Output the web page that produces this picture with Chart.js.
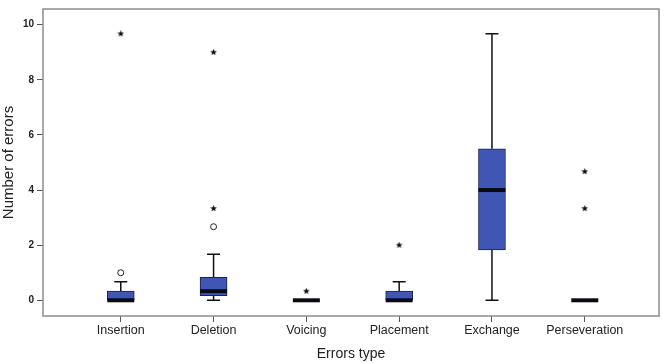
<!DOCTYPE html>
<html>
<head>
<meta charset="utf-8">
<script src="https://cdn.jsdelivr.net/npm/chart.js@4.4.0/dist/chart.umd.min.js"></script>
<style>
  body { margin: 0; background: #fff; }
  #wrap { width: 664px; height: 363px; }
</style>
</head>
<body>
<div id="wrap"><canvas id="box-chart" width="664" height="363"></canvas></div>
<script>
// categories + box stats
var categories = ['Insertion', 'Deletion', 'Voicing', 'Placement', 'Exchange', 'Perseveration'];
var whiskerLow = [0, 0, 0, 0, 0, 0];
var q1 = [0, 0.17, 0, 0, 1.83, 0];
var median = [0, 0.33, 0, 0, 4, 0];
var q3 = [0.33, 0.83, 0, 0.33, 5.5, 0];
var whiskerHigh = [0.67, 1.67, 0, 0.67, 9.67, 0];

// outliers (o) and extremes (*)
var circleCat = [0, 1];
var circleVal = [1, 2.67];
var starCat = [0, 1, 1, 2, 3, 5, 5];
var starVal = [9.67, 3.33, 9, 0.33, 2, 3.33, 4.67];

var yTicks = [0, 2, 4, 6, 8, 10];
var xTicks = [0, 1, 2, 3, 4, 5];

/* filled star marker */
function makeStar(size) {
  var c = document.createElement('canvas');
  c.width = size; c.height = size;
  var ctx = c.getContext('2d');
  var cx = size / 2, cy = size / 2, R = size / 2, r = R * 0.45;
  ctx.beginPath();
  for (var i = 0; i < 10; i++) {
    var rad = (i % 2 === 0) ? R : r;
    var a = -Math.PI / 2 + i * Math.PI / 5;
    ctx.lineTo(cx + rad * Math.cos(a), cy + rad * Math.sin(a));
  }
  ctx.closePath();
  ctx.fillStyle = '#111';
  ctx.fill();
  return c;
}
var starImg = makeStar(7);

var boxData = [];
for (var i = 0; i < categories.length; i++) {
  boxData.push({ x: i, y: [q1[i], q3[i]] });
}
var circleData = circleCat.map(function(c, i) { return { x: c, y: circleVal[i] }; });
var starData = starCat.map(function(c, i) { return { x: c, y: starVal[i] }; });

// whiskers, caps, medians + frame
var boxPlugin = {
  id: 'boxExtras',
  beforeDatasetsDraw: function(chart) {
    var ctx = chart.ctx, xs = chart.scales.x, ys = chart.scales.y;
    ctx.save();
    ctx.strokeStyle = '#111';
    ctx.lineWidth = 1.5;
    for (var i = 0; i < categories.length; i++) {
      var x = xs.getPixelForValue(i);
      var lo = ys.getPixelForValue(whiskerLow[i]);
      var hi = ys.getPixelForValue(whiskerHigh[i]);
      var b = ys.getPixelForValue(q1[i]);
      var t = ys.getPixelForValue(q3[i]);
      if (whiskerHigh[i] > q3[i]) {
        ctx.beginPath();
        ctx.moveTo(x, t); ctx.lineTo(x, hi);
        ctx.moveTo(x - 6.5, hi); ctx.lineTo(x + 6.5, hi);
        ctx.stroke();
      }
      if (whiskerLow[i] < q1[i]) {
        ctx.beginPath();
        ctx.moveTo(x, b); ctx.lineTo(x, lo);
        ctx.moveTo(x - 6.5, lo); ctx.lineTo(x + 6.5, lo);
        ctx.stroke();
      }
    }
    ctx.restore();
  },
  afterDatasetsDraw: function(chart) {
    var ctx = chart.ctx, xs = chart.scales.x, ys = chart.scales.y;
    ctx.save();
    ctx.strokeStyle = '#0a0a14';
    ctx.lineWidth = 4;
    for (var i = 0; i < categories.length; i++) {
      var x = xs.getPixelForValue(i);
      var m = ys.getPixelForValue(median[i]);
      ctx.beginPath();
      ctx.moveTo(x - 13.5, m); ctx.lineTo(x + 13.5, m);
      ctx.stroke();
    }
    var a = chart.chartArea;
    ctx.strokeStyle = '#8c8c8c';
    ctx.lineWidth = 1.5;
    ctx.strokeRect(a.left, a.top, a.right - a.left, a.bottom - a.top);
    ctx.restore();
  }
};

new Chart(document.getElementById('box-chart'), {
  type: 'bar',
  data: {
    datasets: [{
      type: 'bar',
      data: boxData,
      backgroundColor: '#3f56b4',
      borderColor: '#1c2250',
      borderWidth: 1,
      borderSkipped: false,
      barThickness: 27,
      order: 2
    }, {
      type: 'scatter',
      data: circleData,
      pointStyle: 'circle',
      pointRadius: 3,
      pointBackgroundColor: '#fff',
      pointBorderColor: '#222',
      pointBorderWidth: 1,
      order: 1
    }, {
      type: 'scatter',
      data: starData,
      pointStyle: starImg,
      order: 1
    }]
  },
  options: {
    responsive: false,
    animation: false,
    layout: { padding: { top: 4, right: 0, left: 0, bottom: 0 } },
    plugins: { legend: { display: false }, tooltip: { enabled: false } },
    scales: {
      x: {
        type: 'linear',
        min: -0.838,
        max: 5.80,
        offset: false,
        afterBuildTicks: function(s) { s.ticks = xTicks.map(function(v) { return { value: v }; }); },
        afterFit: function(s) { s.height = 47; },
        grid: { offset: false, drawOnChartArea: false, tickLength: 6, color: '#555', lineWidth: 1 },
        border: { display: false },
        ticks: {
          padding: 1,
          color: '#222',
          font: { family: 'Liberation Sans, Arial', size: 12.5 },
          callback: function(v) { return categories[v]; }
        },
        title: {
          display: true,
          text: 'Errors type',
          color: '#222',
          padding: { top: 0, bottom: 0 },
          font: { family: 'Liberation Sans, Arial', size: 14 }
        }
      },
      y: {
        min: -0.57,
        max: 10.57,
        afterBuildTicks: function(s) { s.ticks = yTicks.map(function(v) { return { value: v }; }); },
        afterFit: function(s) { s.width = 43; },
        grid: { drawOnChartArea: false, tickLength: 6, color: '#555', lineWidth: 1 },
        border: { display: false },
        ticks: {
          padding: 3,
          color: '#222',
          font: { family: 'Liberation Sans, Arial', size: 10, weight: 'bold' }
        },
        title: {
          display: true,
          text: 'Number of errors',
          color: '#222',
          padding: { top: 0, bottom: 0 },
          font: { family: 'Liberation Sans, Arial', size: 15 }
        }
      }
    }
  },
  plugins: [boxPlugin]
});
</script>
</body>
</html>
